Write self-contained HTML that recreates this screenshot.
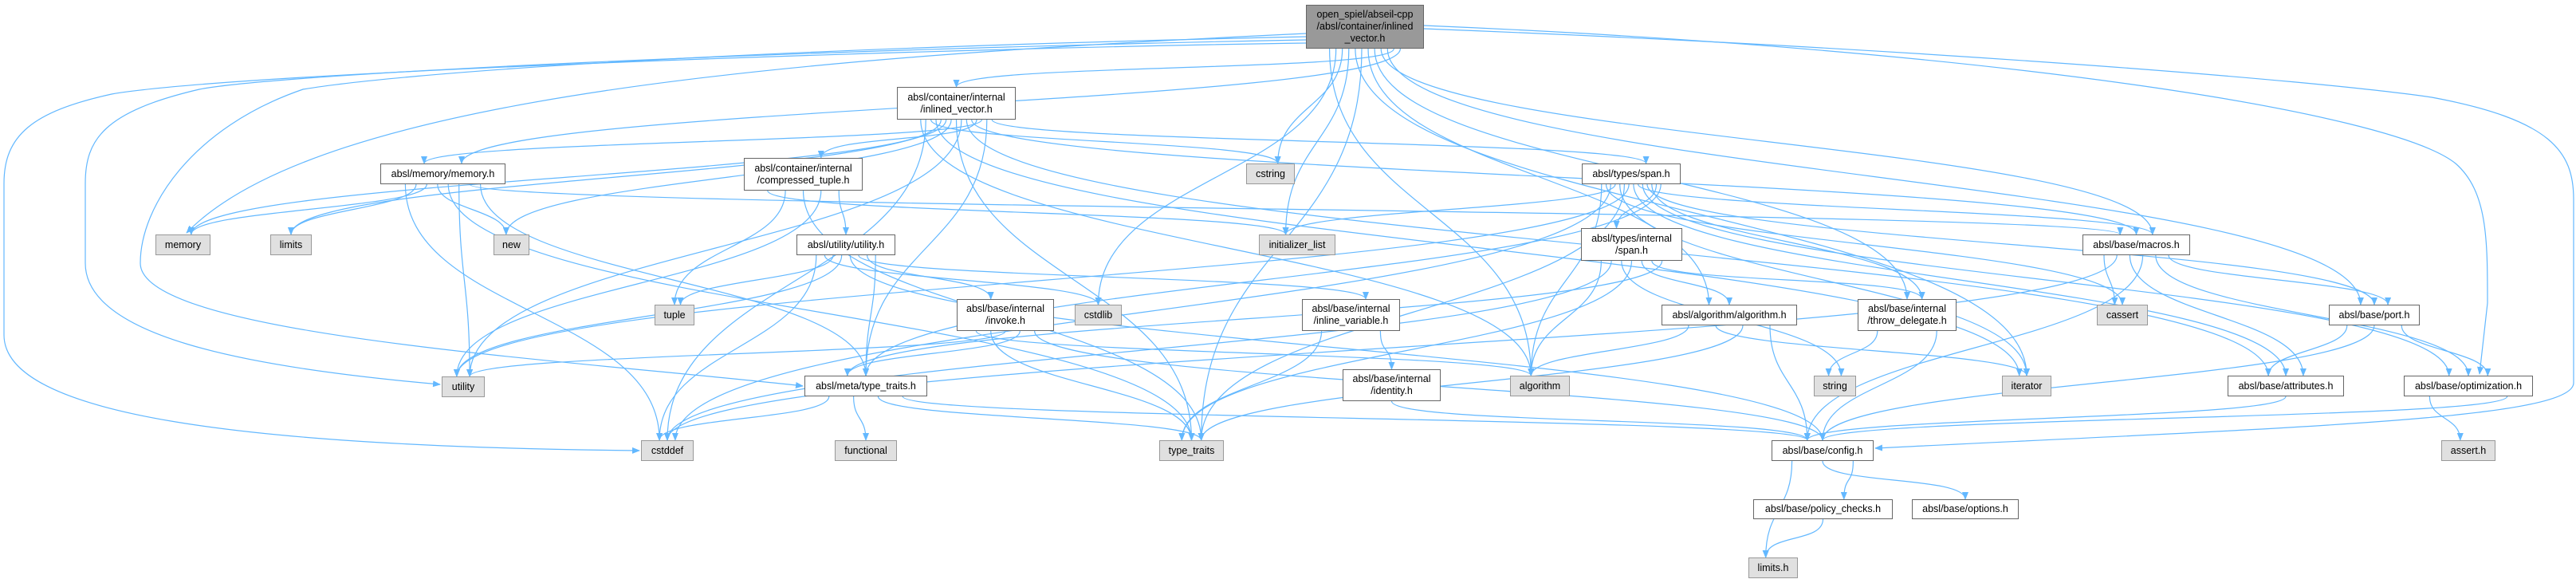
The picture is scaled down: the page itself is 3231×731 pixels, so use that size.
<!DOCTYPE html>
<html><head><meta charset="utf-8"><style>
html,body{margin:0;padding:0;background:#fff;}
#c{position:relative;width:3231px;height:731px;overflow:hidden;font-family:"Liberation Sans",Arial,sans-serif;}
.n{position:absolute;box-sizing:border-box;border:1.5px solid #666;background:#fff;font-size:12.5px;color:#000;display:flex;align-items:center;justify-content:center;text-align:center;line-height:15px;white-space:nowrap;}
.g{background:#e0e0e0;border-color:#999;}
.m{background:#999;border-color:#666;}
svg{position:absolute;left:0;top:0;}
</style></head><body><div id="c">
<svg id="s" width="3231" height="731"><defs><marker id="a" markerWidth="10" markerHeight="8" refX="9" refY="4" orient="auto" markerUnits="userSpaceOnUse"><path d="M0,0 L10,4 L0,8 z" fill="#63b8ff"/></marker></defs></svg>
<div class="n m" style="left:1638px;top:6px;width:148px;height:55px">open_spiel/abseil-cpp<br>/absl/container/inlined<br>_vector.h</div>
<div class="n" style="left:1125px;top:109px;width:149px;height:41px">absl/container/internal<br>/inlined_vector.h</div>
<div class="n" style="left:477px;top:205px;width:157px;height:26px">absl/memory/memory.h</div>
<div class="n g" style="left:195px;top:294px;width:69px;height:26px">memory</div>
<div class="n g" style="left:339px;top:294px;width:52px;height:26px">limits</div>
<div class="n g" style="left:619px;top:294px;width:45px;height:26px">new</div>
<div class="n g" style="left:554px;top:472px;width:54px;height:26px">utility</div>
<div class="n g" style="left:804px;top:552px;width:66px;height:26px">cstddef</div>
<div class="n" style="left:933px;top:198px;width:149px;height:41px">absl/container/internal<br>/compressed_tuple.h</div>
<div class="n g" style="left:1563px;top:205px;width:61px;height:26px">cstring</div>
<div class="n g" style="left:1579px;top:294px;width:96px;height:26px">initializer_list</div>
<div class="n" style="left:999px;top:294px;width:124px;height:26px">absl/utility/utility.h</div>
<div class="n g" style="left:821px;top:382px;width:50px;height:26px">tuple</div>
<div class="n" style="left:1200px;top:375px;width:122px;height:40px">absl/base/internal<br>/invoke.h</div>
<div class="n g" style="left:1348px;top:382px;width:59px;height:26px">cstdlib</div>
<div class="n" style="left:1009px;top:471px;width:154px;height:26px">absl/meta/type_traits.h</div>
<div class="n g" style="left:1047px;top:552px;width:78px;height:26px">functional</div>
<div class="n g" style="left:1454px;top:552px;width:81px;height:26px">type_traits</div>
<div class="n" style="left:1984px;top:205px;width:124px;height:26px">absl/types/span.h</div>
<div class="n" style="left:1983px;top:286px;width:127px;height:41px">absl/types/internal<br>/span.h</div>
<div class="n" style="left:1633px;top:375px;width:123px;height:40px">absl/base/internal<br>/inline_variable.h</div>
<div class="n" style="left:1684px;top:463px;width:123px;height:40px">absl/base/internal<br>/identity.h</div>
<div class="n g" style="left:1894px;top:471px;width:75px;height:26px">algorithm</div>
<div class="n" style="left:2084px;top:382px;width:170px;height:26px">absl/algorithm/algorithm.h</div>
<div class="n" style="left:2330px;top:375px;width:124px;height:40px">absl/base/internal<br>/throw_delegate.h</div>
<div class="n g" style="left:2275px;top:471px;width:53px;height:26px">string</div>
<div class="n" style="left:2222px;top:552px;width:128px;height:26px">absl/base/config.h</div>
<div class="n" style="left:2199px;top:626px;width:175px;height:25px">absl/base/policy_checks.h</div>
<div class="n g" style="left:2193px;top:699px;width:62px;height:26px">limits.h</div>
<div class="n" style="left:2398px;top:626px;width:134px;height:25px">absl/base/options.h</div>
<div class="n" style="left:2612px;top:294px;width:135px;height:26px">absl/base/macros.h</div>
<div class="n g" style="left:2630px;top:382px;width:64px;height:26px">cassert</div>
<div class="n" style="left:2921px;top:382px;width:114px;height:26px">absl/base/port.h</div>
<div class="n g" style="left:2511px;top:471px;width:62px;height:26px">iterator</div>
<div class="n" style="left:2794px;top:471px;width:146px;height:26px">absl/base/attributes.h</div>
<div class="n" style="left:3015px;top:471px;width:162px;height:26px">absl/base/optimization.h</div>
<div class="n g" style="left:3062px;top:552px;width:68px;height:26px">assert.h</div>
</div>
<script>
var N={
main:[1638,6,148,55],iv:[1125,109,149,41],mem:[477,205,157,26],memory:[195,294,69,26],limits:[339,294,52,26],new:[619,294,45,26],utility:[554,472,54,26],cstddef:[804,552,66,26],ct:[933,198,149,41],cstring:[1563,205,61,26],il:[1579,294,96,26],uu:[999,294,124,26],tuple:[821,382,50,26],inv:[1200,375,122,40],cstdlib:[1348,382,59,26],mtt:[1009,471,154,26],functional:[1047,552,78,26],tt:[1454,552,81,26],span:[1984,205,124,26],ispan:[1983,286,127,41],iv2:[1633,375,123,40],ident:[1684,463,123,40],algo:[1894,471,75,26],algh:[2084,382,170,26],thr:[2330,375,124,40],string:[2275,471,53,26],cfg:[2222,552,128,26],pol:[2199,626,175,25],limh:[2193,699,62,26],opt:[2398,626,134,25],mac:[2612,294,135,26],cassert:[2630,382,64,26],port:[2921,382,114,26],iter:[2511,471,62,26],attr:[2794,471,146,26],optz:[3015,471,162,26],asrt:[3062,552,68,26]};
var E={
main:['algo','cstdlib','cstring','il','iter','tt','algh','thr','mac','port','iv','mem'],
iv:['algo','cstddef','cstring','iter','limits','memory','new','tt','utility','attr','mac','ct','mem','mtt','span'],
mem:['cstddef','limits','memory','new','tt','utility','mac','mtt'],
ct:['il','tuple','tt','utility','uu'],
uu:['cstddef','cstdlib','tuple','utility','cfg','iv2','inv','mtt'],
inv:['algo','tt','utility','mtt','cfg'],
iv2:['tt','ident'],ident:['cfg'],
mtt:['cstddef','functional','tt','cfg'],
span:['algo','cassert','cstddef','il','iter','tt','utility','attr','mac','optz','port','thr','ispan','mtt'],
ispan:['algo','cstddef','string','tt','algh','thr','mtt'],
algh:['algo','iter','tt','cfg'],thr:['string','cfg'],
mac:['cassert','cstddef','attr','cfg','optz','port'],
port:['attr','cfg','optz'],optz:['asrt','cfg'],attr:['cfg'],
cfg:['limh','opt','pol'],pol:['limh']};
var P='<path fill="none" stroke="#63b8ff" stroke-width="1.2" marker-end="url(#a)" d="';
var s='';
for(var a in E){var A=N[a];E[a].forEach(function(b,i){var B=N[b];
var n=E[a].length;var sx=A[0]+A[2]*(0.2+0.6*(n>1?i/(n-1):0.5)),sy=A[1]+A[3];
var tx=B[0]+B[2]/2+((i%3)-1)*B[2]*0.15,ty=B[1];
var d=Math.max(30,(ty-sy)*0.5);
s+=P+'M'+sx.toFixed(1)+','+sy+' C'+sx.toFixed(1)+','+(sy+d).toFixed(1)+' '+tx.toFixed(1)+','+(ty-d).toFixed(1)+' '+tx.toFixed(1)+','+ty+'"/>';});}
var C=[
'M1638,54 C1200,60 300,90 140,118 C40,140 5,170 5,230 L5,420 C5,520 300,560 802,565',
'M1638,50 C1000,62 350,92 250,112 C130,140 107,175 107,230 L107,330 C107,420 300,460 552,482',
'M1638,46 C900,62 500,92 380,112 C240,160 176,260 176,330 C176,420 700,450 1007,484',
'M1638,42 C1000,72 400,120 234,292',
'M1786,36 C2400,60 2900,100 3050,122 C3200,150 3228,190 3228,250 L3228,480 C3228,525 2900,535 2352,562',
'M1786,32 C2500,62 3000,140 3080,205 C3120,240 3120,300 3120,380 L3110,469'];
C.forEach(function(p){s+=P+p+'"/>';});
document.getElementById('s').insertAdjacentHTML('beforeend',s);
</script>
</body></html>
